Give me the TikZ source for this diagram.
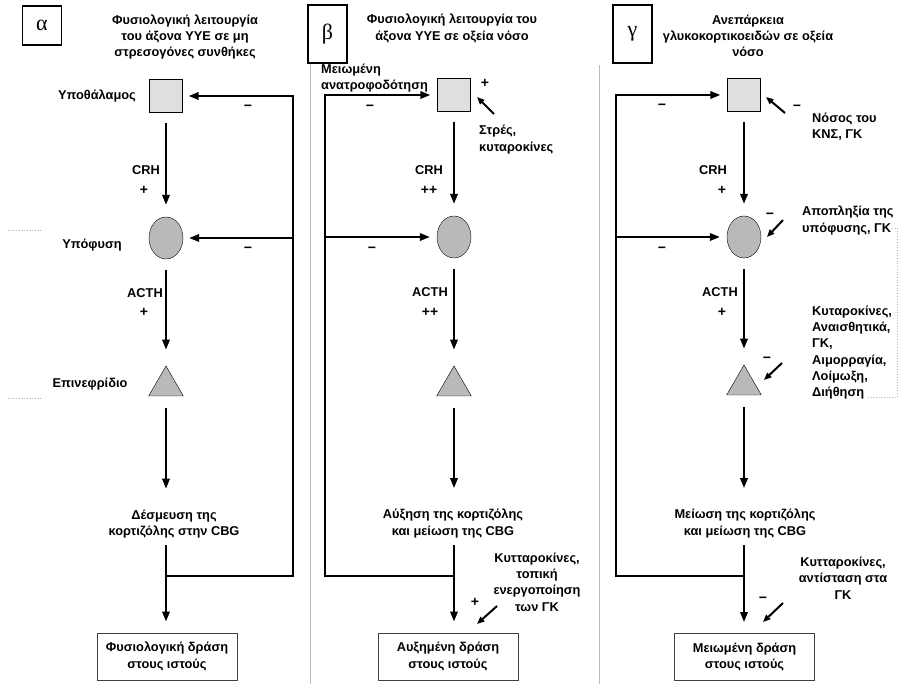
\documentclass[tikz,border=0pt]{standalone}
\usepackage{fontspec}
\setmainfont{Liberation Sans}
\newfontfamily\panelfont{Liberation Serif}
\usetikzlibrary{shapes.geometric,arrows.meta}

\tikzset{
  lbl/.style={font=\bfseries\fontsize{12.8}{16.3}\selectfont, align=center, inner sep=1pt},
  lbll/.style={lbl, align=left, anchor=west},
  sign/.style={font=\bfseries\fontsize{14}{14}\selectfont, inner sep=0pt},
  organ/.style={draw, fill=gray!25, minimum size=33pt, inner sep=0pt},
  gland/.style={draw, ellipse, fill=gray!55, minimum width=34pt, minimum height=42pt, inner sep=0pt},
  adrenal/.style={draw, regular polygon, regular polygon sides=3, fill=gray!55, minimum size=40pt, inner sep=0pt},
  flow/.style={line width=2pt, -{Triangle[length=10pt,width=7.5pt]}},
  hint/.style={line width=2pt, -{Triangle[length=7.5pt,width=6pt]}},
  effect/.style={lbl, draw=black!75, line width=1pt, fill=white, minimum width=140pt, minimum height=47pt},
  panelbox/.style={draw, line width=1.3pt, minimum width=39pt, inner sep=0pt, font=\panelfont\fontsize{22}{22}\selectfont},
  sep/.style={gray!55, line width=0.8pt},
  dots/.style={gray!60, dotted, line width=0.7pt}
}

\begin{document}
\begin{tikzpicture}[x=1pt,y=-1pt]
    \useasboundingbox (0,0) rectangle (900,684);
    \def\ax{166}; \def\bx{454}; \def\cx{744};

    \draw[sep] (310,63) -- (310,684); \draw[sep] (599,65) -- (599,684);
    \draw[dots] (8,230) -- (42,230); \draw[dots] (8,398) -- (42,398);
    \draw[dots] (892,228) -- (897,228) -- (897,397) -- (866,397);

    % alpha
    \node[panelbox, minimum height=39pt] (pa) at (42,25.5) {α};
    \node[lbl] (ta) at (185,37) {Φυσιολογική λειτουργία\\του άξονα ΥΥΕ σε μη\\στρεσογόνες συνθήκες};
    \node[organ] (Ha) at (\ax,96) {}; \node[lbl, anchor=east] (la1) at (137,96) {Υποθάλαμος};
    \node[gland] (Pa) at (\ax,238) {}; \node[lbl] (la2) at (92,245) {Υπόφυση};
    \node[adrenal] (Aa) at (\ax,386) {}; \node[lbl] (la3) at (90,384) {Επινεφρίδιο};
    \node[lbl] (Ca) at (174,524) {Δέσμευση της\\κορτιζόλης στην CBG};
    \node[effect] (Ea) at (167,656.5) {Φυσιολογική δράση\\στους ιστούς};
    \node[lbl] (ha1) at (146,170) {CRH}; \node[sign] (sa1) at (144,190) {+};
    \node[lbl] (ha2) at (145,293) {ACTH}; \node[sign] (sa2) at (144,312) {+};
    \node[sign] (sa3) at (248,108) {−}; \node[sign] (sa4) at (248,250) {−};
    \coordinate (ja) at (\ax,576); \coordinate (fa) at (293,96);

    \draw[flow, shorten <=10pt, shorten >=12pt] (Ha.south) -- (Pa.north);
    \draw[flow, shorten <=11pt, shorten >=16pt] (Pa.south) -- (Aa.north);
    \draw[flow, shorten <=12pt, shorten >=20pt] (Aa.south) -- (Aa.south |- Ca.north);
    \draw[flow, shorten <=6pt, shorten >=11pt] (Aa.south |- Ca.south) -- (Aa.south |- Ea.north);
    \draw[flow, shorten >=6pt] (ja) -| (fa) -- (Ha.east);
    \draw[flow, shorten >=6pt] (fa |- Pa) -- (Pa.east);

    % beta
    \node[panelbox, minimum height=58pt] (pb) at (327.5,34) {β};
    \node[lbl] (tb) at (452,28.5) {Φυσιολογική λειτουργία του\\άξονα ΥΥΕ σε οξεία νόσο};
    \node[organ] (Hb) at (\bx,95) {}; \node[lbll] (lb1) at (320,78) {Μειωμένη\\ανατροφοδότηση};
    \node[lbll] (lb2) at (478,139.5) {Στρές,\\κυταροκίνες};
    \node[gland] (Pb) at (\bx,237) {};
    \node[adrenal] (Ab) at (\bx,386) {};
    \node[lbl] (Cb) at (453,523.5) {Αύξηση της κορτιζόλης\\και μείωση της CBG};
    \node[lbl] (lb3) at (537,582) {Κυτταροκίνες,\\τοπική\\ενεργοποίηση\\των ΓΚ};
    \node[effect] (Eb) at (448,656.5) {Αυξημένη δράση\\στους ιστούς};
    \node[lbl] (hb1) at (429,170) {CRH}; \node[sign] (sb1) at (429,190) {++};
    \node[lbl] (hb2) at (430,292) {ACTH}; \node[sign] (sb2) at (430,312) {++};
    \node[sign] (sb3) at (370,108) {−}; \node[sign] (sb4) at (372,250) {−};
    \node[sign] (sb5) at (485,83) {+}; \node[sign] (sb6) at (475,602) {+};
    \coordinate (jb) at (\bx,576); \coordinate (fb) at (325,95);
    \coordinate (kb1) at (494,114); \coordinate (kb2) at (477,97);
    \coordinate (kb3) at (497,606); \coordinate (kb4) at (477,624);

    \draw[flow, shorten <=10pt, shorten >=12pt] (Hb.south) -- (Pb.north);
    \draw[flow, shorten <=11pt, shorten >=16pt] (Pb.south) -- (Ab.north);
    \draw[flow, shorten <=12pt, shorten >=20pt] (Ab.south) -- (Ab.south |- Cb.north);
    \draw[flow, shorten <=6pt, shorten >=11pt] (Ab.south |- Cb.south) -- (Ab.south |- Eb.north);
    \draw[flow, shorten >=7pt] (jb) -| (fb) -- (Hb.west);
    \draw[flow, shorten >=7pt] (fb |- Pb) -- (Pb.west);
    \draw[hint] (kb1) -- (kb2); \draw[hint] (kb3) -- (kb4);

    % gamma
    \node[lbl] (tc) at (748,36) {Ανεπάρκεια\\γλυκοκορτικοειδών σε οξεία\\νόσο};
    \node[panelbox, minimum height=58pt, fill=white] (pc) at (632.5,34) {γ};
    \node[organ] (Hc) at (\cx,95) {}; \node[lbll] (lc1) at (811,127) {Νόσος του\\ΚΝΣ, ΓΚ};
    \node[gland] (Pc) at (\cx,237) {}; \node[lbll] (lc2) at (801,220.5) {Αποπληξία της\\υπόφυσης, ΓΚ};
    \node[adrenal] (Ac) at (\cx,385) {};
    \node[lbll] (lc3) at (811,352.5) {Κυταροκίνες,\\Αναισθητικά,\\ΓΚ,\\Αιμορραγία,\\Λοίμωξη,\\Διήθηση};
    \node[lbl] (Cc) at (745,523.5) {Μείωση της κορτιζόλης\\και μείωση της CBG};
    \node[lbl] (lc4) at (843,578) {Κυτταροκίνες,\\αντίσταση στα\\ΓΚ};
    \node[effect] (Ec) at (744.5,657) {Μειωμένη δράση\\στους ιστούς};
    \node[lbl] (hc1) at (713,170) {CRH}; \node[sign] (sc1) at (722,190) {+};
    \node[lbl] (hc2) at (720,292) {ACTH}; \node[sign] (sc2) at (722,312) {+};
    \node[sign] (sc3) at (662,107) {−}; \node[sign] (sc4) at (662,250) {−};
    \node[sign] (sc5) at (797,108) {−}; \node[sign] (sc6) at (770,216) {−};
    \node[sign] (sc7) at (767,360) {−}; \node[sign] (sc8) at (763,600) {−};
    \coordinate (jc) at (\cx,576); \coordinate (fc) at (616,95);
    \coordinate (kc1) at (785,113); \coordinate (kc2) at (766,97);
    \coordinate (kc3) at (783,220); \coordinate (kc4) at (767,237);
    \coordinate (kc5) at (782,363); \coordinate (kc6) at (764,380);
    \coordinate (kc7) at (783,603); \coordinate (kc8) at (763,622);

    \draw[flow, shorten <=10pt, shorten >=12pt] (Hc.south) -- (Pc.north);
    \draw[flow, shorten <=11pt, shorten >=16pt] (Pc.south) -- (Ac.north);
    \draw[flow, shorten <=12pt, shorten >=20pt] (Ac.south) -- (Ac.south |- Cc.north);
    \draw[flow, shorten <=6pt, shorten >=11pt] (Ac.south |- Cc.south) -- (Ac.south |- Ec.north);
    \draw[flow, shorten >=7pt] (jc) -| (fc) -- (Hc.west);
    \draw[flow, shorten >=7pt] (fc |- Pc) -- (Pc.west);
    \draw[hint] (kc1) -- (kc2); \draw[hint] (kc3) -- (kc4);
    \draw[hint] (kc5) -- (kc6); \draw[hint] (kc7) -- (kc8);
\end{tikzpicture}
\end{document}
